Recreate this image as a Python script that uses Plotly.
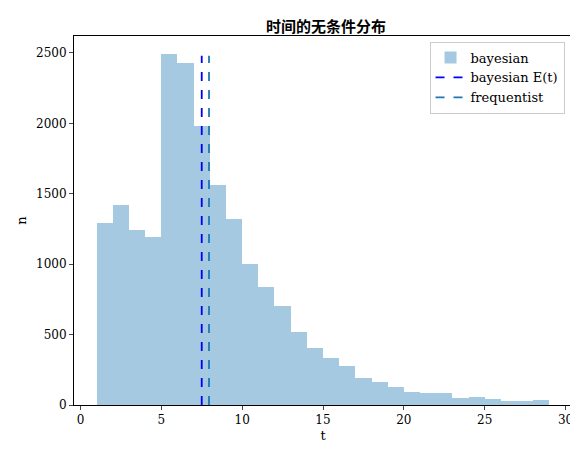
import plotly.graph_objects as go

bin_left = list(range(1, 29))
counts = [1290, 1420, 1240, 1195, 2495, 2425, 1980, 1565, 1320, 1000, 840, 700, 520, 405,
          335, 275, 190, 160, 130, 95, 85, 85, 50, 55, 45, 30, 25, 35]
bayes_mean = 7.5
freq_mean = 7.95
line_top = 2480

fig = go.Figure()
fig.add_trace(go.Bar(x=[b + 0.5 for b in bin_left], y=counts, width=1,
                     marker=dict(color="rgba(31,119,180,0.4)", line=dict(width=0)),
                     name="bayesian"))
fig.add_trace(go.Scatter(x=[bayes_mean, bayes_mean], y=[0, line_top], mode="lines",
                         line=dict(color="blue", dash="dash", width=1.8), name="bayesian E(t)"))
fig.add_trace(go.Scatter(x=[freq_mean, freq_mean], y=[0, line_top], mode="lines",
                         line=dict(color="#1f77b4", dash="dash", width=1.8), name="frequentist"))

axis = dict(showline=True, linecolor="black", mirror=True, ticks="outside", ticklen=4,
            showgrid=False, zeroline=False, tickfont=dict(size=12))
fig.update_layout(
    width=578, height=455, plot_bgcolor="white", paper_bgcolor="white",
    margin=dict(l=66, r=14, t=28, b=58), bargap=0,
    font=dict(family="DejaVu Serif, Noto Sans CJK SC", color="black", size=12),
    title=dict(text="<b>时间的无条件分布</b>", x=0.55, xanchor="center", y=0.97,
               font=dict(family="Noto Sans CJK SC", size=15)),
    xaxis=dict(axis, range=[-0.4, 30.4], tickvals=[0, 5, 10, 15, 20, 25, 30],
               title=dict(text="t", standoff=4, font=dict(size=13))),
    yaxis=dict(axis, range=[0, 2620], tickvals=[0, 500, 1000, 1500, 2000, 2500],
               title=dict(text="n", standoff=6, font=dict(size=13))),
    legend=dict(x=0.985, y=0.985, xanchor="right", yanchor="top", bordercolor="#ccc",
                borderwidth=1, bgcolor="rgba(255,255,255,0.8)", font=dict(size=13)),
    barmode="overlay",
)
fig.write_html("out.html")
